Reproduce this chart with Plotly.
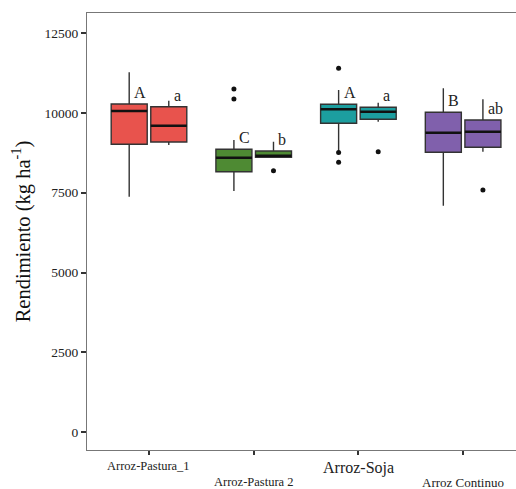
import plotly.graph_objects as go

# Rotation systems (x axis categories)
categories = ["Arroz-Pastura_1", "Arroz-Pastura 2", "Arroz-Soja", "Arroz Continuo"]
colors = ["#E8534D", "#4E8A33", "#1C9E9F", "#8060AC"]

# Box statistics (kg/ha) for the two series at each category
s1_lower = [7376, 7555, 8800, 7094]
s1_q1 = [9019, 8160, 9677, 8768]
s1_median = [10063, 8599, 10116, 9383]
s1_q3 = [10282, 8862, 10273, 10022]
s1_upper = [11276, 9154, 10721, 10774]

s2_lower = [9000, 8611, 9727, 8787]
s2_q1 = [9091, 8611, 9803, 8925]
s2_median = [9602, 8662, 10041, 9414]
s2_q3 = [10197, 8809, 10179, 9781]
s2_upper = [10386, 9100, 10323, 10430]

# Outlying observations: (category index, value)
s1_out_cat = [1, 1, 2, 2, 2]
s1_out_val = [10752, 10439, 11401, 8760, 8455]
s2_out_cat = [1, 2, 3]
s2_out_val = [8191, 8787, 7586]

# Letters of mean separation
s1_letters = ["A", "C", "A", "B"]
s2_letters = ["a", "b", "a", "ab"]

y_ticks = [0, 2500, 5000, 7500, 10000, 12500]

OFFSET = 0.189
BOX_W = 0.344
SERIF = "Liberation Serif, Times New Roman, serif"
EDGE = "#333333"

fig = go.Figure()

series = [
    (-OFFSET, s1_lower, s1_q1, s1_median, s1_q3, s1_upper, s1_out_cat, s1_out_val, s1_letters),
    (OFFSET, s2_lower, s2_q1, s2_median, s2_q3, s2_upper, s2_out_cat, s2_out_val, s2_letters),
]

for off, lo, q1, med, q3, up, oc, ov, letters in series:
    for i, cat in enumerate(categories):
        pos = i + off
        fig.add_trace(go.Box(
            x=[pos], q1=[q1[i]], median=[med[i]], q3=[q3[i]],
            lowerfence=[lo[i]], upperfence=[up[i]],
            width=BOX_W, whiskerwidth=0,
            fillcolor=colors[i],
            line=dict(color=EDGE, width=1.4),
            boxpoints=False, showlegend=False, hoverinfo="skip",
        ))
        # heavier median bar across the box
        fig.add_trace(go.Scatter(
            x=[pos - BOX_W / 2, pos + BOX_W / 2], y=[med[i], med[i]],
            mode="lines", line=dict(color="#111111", width=2.4),
            showlegend=False, hoverinfo="skip",
        ))
        fig.add_annotation(
            x=pos, y=q3[i], xref="x", yref="y",
            text=letters[i], showarrow=False,
            xanchor="left", yanchor="bottom", xshift=3, yshift=1,
            font=dict(family=SERIF, size=16, color="#222222"),
        )
    fig.add_trace(go.Scatter(
        x=[c + off for c in oc], y=ov, mode="markers",
        marker=dict(color="#111111", size=5),
        showlegend=False, hoverinfo="skip",
    ))

# Staggered category labels under the x axis
label_sizes = [12.5, 12.5, 16, 13]
label_shift = [0, -16, 0, -16]
for i, cat in enumerate(categories):
    fig.add_annotation(
        x=i, y=0, xref="x", yref="paper", text=cat, showarrow=False,
        xanchor="center", yanchor="top", yshift=-7 + label_shift[i],
        font=dict(family=SERIF, size=label_sizes[i], color="#222222"),
    )

fig.update_layout(
    width=516, height=489,
    margin=dict(l=87, r=0, t=13, b=39),
    paper_bgcolor="white", plot_bgcolor="white",
    font=dict(family=SERIF, color="#222222"),
    showlegend=False,
)

fig.update_xaxes(
    range=[-0.592, 3.505], tickvals=list(range(len(categories))),
    showticklabels=False,
    showgrid=False, zeroline=False,
    showline=True, linecolor="#777777", linewidth=1.2, mirror=True,
    ticks="outside", ticklen=4, tickwidth=1.5, tickcolor="#333333",
)

fig.update_yaxes(
    range=[-564, 13135], tickvals=y_ticks,
    ticktext=[str(v) for v in y_ticks],
    showgrid=False, zeroline=False,
    showline=True, linecolor="#777777", linewidth=1.2,
    ticks="outside", ticklen=5, tickwidth=1.5, tickcolor="#333333",
    tickfont=dict(family=SERIF, size=13.5, color="#222222"),
    title=dict(text="Rendimiento (kg ha<sup>-1</sup>)",
               font=dict(family=SERIF, size=20.5, color="#111111"), standoff=8),
)

fig.write_html("out.html")
